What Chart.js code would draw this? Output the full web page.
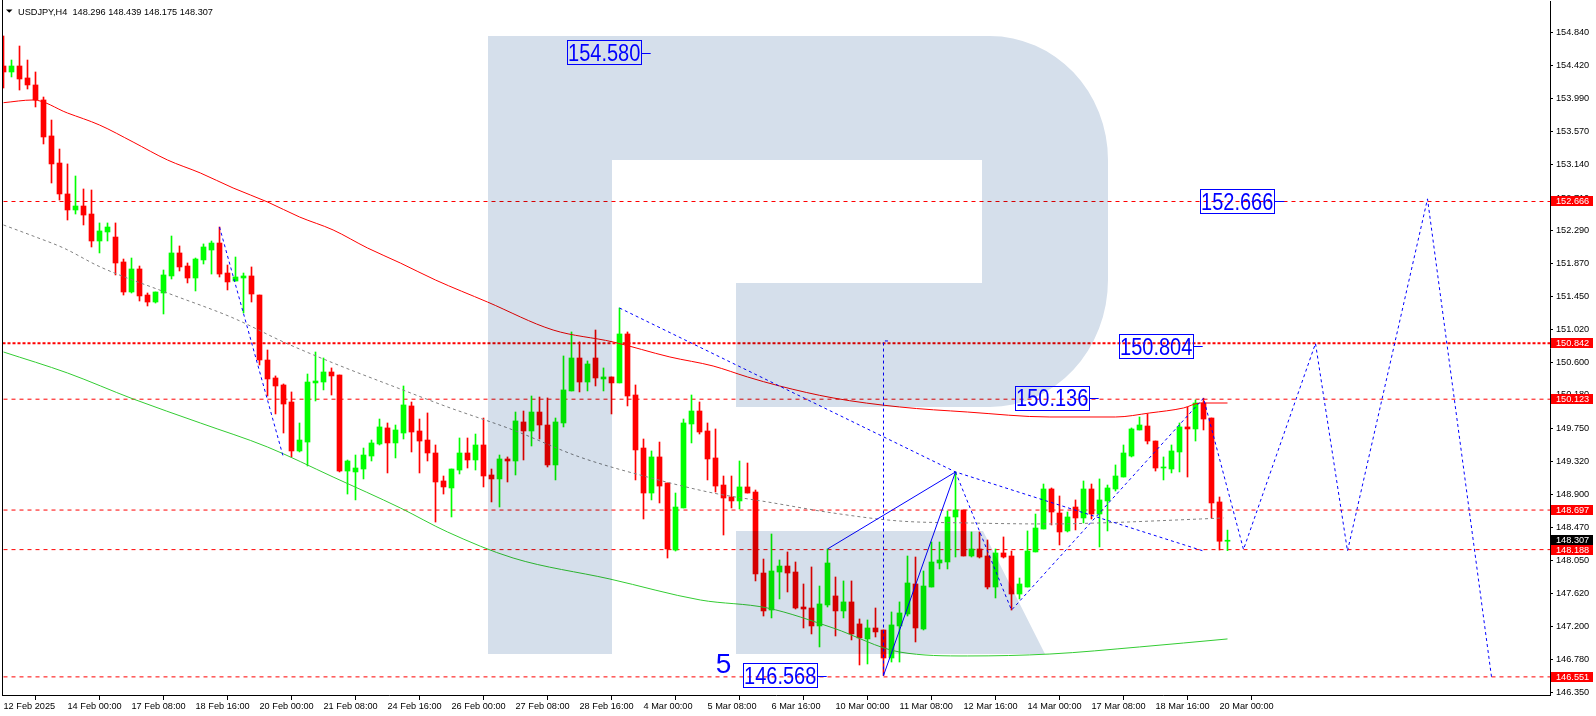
<!DOCTYPE html>
<html>
<head>
<meta charset="utf-8">
<script src="https://cdn.jsdelivr.net/npm/chart.js@4.4.1/dist/chart.umd.min.js"></script>
<style>
    html, body { margin: 0; padding: 0; background: #fff; overflow: hidden; }
</style>
</head>
<body>
<canvas id="myChart" width="1596" height="716"></canvas>
<script>
    // USDJPY H4 candles, 12 Feb 16:00 -> 20 Mar 04:00
    const open = [154.409,154.332,154.409,154.255,154.165,153.972,153.509,153.161,152.763,152.557,152.608,152.505,152.158,152.274,152.209,151.888,151.502,151.798,151.463,151.373,
        151.489,151.708,152.004,151.836,151.682,151.914,152.042,152.132,151.746,151.643,151.682,151.708,151.463,150.627,150.396,150.306,150.087,149.457,149.572,150.332,
        150.344,150.473,150.434,149.199,149.187,149.225,149.392,149.547,149.753,149.560,149.688,150.036,149.714,149.598,149.431,149.071,148.981,149.212,149.431,149.341,
        149.534,149.148,149.097,149.354,149.328,149.830,149.714,149.958,149.791,149.277,149.817,150.229,150.653,150.344,150.653,150.383,150.409,150.332,150.962,150.177,
        149.495,148.916,149.380,149.045,148.183,148.724,149.804,149.971,149.714,149.367,149.019,148.865,148.814,148.994,148.929,147.887,147.411,147.900,147.977,147.900,
        147.450,147.437,147.206,147.476,147.592,147.399,147.515,147.232,147.039,147.180,147.154,146.794,147.206,147.360,147.746,147.167,147.707,148.016,148.029,148.608,
        148.698,148.106,148.196,148.106,147.707,148.145,148.106,147.617,147.707,148.158,148.453,148.968,148.659,148.428,148.736,148.595,148.968,148.646,148.814,148.968,
        149.122,149.392,149.727,149.778,149.585,149.238,149.225,149.444,149.766,149.740,150.074,149.881,148.801,148.296];
    const high = [154.795,154.486,154.666,154.486,154.332,154.010,153.714,153.341,153.149,152.994,152.827,152.814,152.390,152.390,152.390,151.926,151.939,151.836,151.489,151.502,
        151.785,152.222,152.094,151.875,151.939,152.120,152.158,152.338,151.849,151.952,151.746,151.824,151.463,150.756,150.422,150.319,150.216,149.817,150.447,150.730,
        150.653,150.525,150.434,149.341,149.405,149.495,149.598,149.868,149.817,149.791,150.293,150.087,149.868,149.946,149.534,149.135,149.225,149.624,149.624,149.675,
        149.881,149.225,149.405,149.380,149.958,149.971,150.164,150.151,150.139,149.881,150.679,150.988,150.859,150.615,151.013,150.525,150.409,151.296,150.988,150.306,
        149.611,149.457,149.572,149.045,148.916,149.868,150.177,150.087,149.817,149.740,149.135,149.135,149.328,149.302,148.955,148.067,148.389,148.055,148.158,148.029,
        147.746,147.965,147.720,148.196,147.836,147.785,147.785,147.296,147.283,147.437,147.154,147.386,147.515,148.106,148.093,147.913,148.286,148.286,148.685,149.187,
        148.698,148.415,148.415,148.312,148.196,148.351,148.170,147.823,148.428,148.646,149.032,148.981,148.878,148.672,148.827,149.071,149.032,149.097,149.019,149.277,
        149.534,149.753,149.894,149.933,149.585,149.380,149.534,149.817,150.023,150.113,150.136,149.881,148.865,148.439];
    const low = [154.126,154.268,154.100,154.113,153.882,153.406,152.904,152.685,152.428,152.505,152.364,152.081,152.004,152.158,151.721,151.463,151.489,151.386,151.322,151.360,
        151.219,151.669,151.772,151.618,151.515,151.862,151.733,151.695,151.528,151.643,151.232,151.373,150.563,150.164,149.933,149.688,149.380,149.444,149.264,150.100,
        150.242,150.177,149.187,148.903,148.827,149.097,149.328,149.534,149.174,149.367,149.611,149.444,149.174,149.328,148.543,148.903,148.608,149.161,149.238,149.212,
        148.994,148.801,148.736,149.058,149.148,149.341,149.521,149.611,149.251,149.084,149.766,150.229,150.216,150.229,150.293,150.229,149.933,150.332,150.036,149.084,
        148.582,148.827,148.788,148.080,148.170,148.724,149.560,149.675,149.084,148.929,148.376,148.724,148.711,148.916,147.785,147.334,147.309,147.553,147.643,147.424,
        147.180,147.103,146.936,147.450,147.077,147.309,147.026,146.704,146.717,147.064,146.568,146.742,146.742,147.334,147.000,147.154,147.707,147.939,147.939,148.093,
        148.106,148.093,148.080,147.682,147.566,148.080,147.411,147.553,147.707,148.158,148.453,148.505,148.248,148.415,148.441,148.531,148.582,148.222,148.428,148.942,
        149.122,149.380,149.727,149.547,149.199,149.084,149.174,149.187,149.122,149.585,149.727,148.595,148.183,148.175];
    const close = [154.332,154.409,154.242,154.165,153.972,153.496,153.149,152.763,152.557,152.608,152.492,152.158,152.287,152.338,151.875,151.502,151.798,151.451,151.373,151.502,
        151.721,152.004,151.824,151.682,151.926,152.081,152.132,151.733,151.631,151.695,151.708,151.476,150.627,150.383,150.293,150.061,149.457,149.598,150.344,150.357,
        150.473,150.422,149.199,149.328,149.238,149.405,149.560,149.766,149.560,149.727,150.049,149.701,149.585,149.431,149.058,148.994,149.225,149.431,149.341,149.534,
        149.135,149.097,149.354,149.328,149.843,149.714,149.958,149.791,149.277,149.830,150.242,150.653,150.344,150.576,150.396,150.409,150.332,150.962,150.164,149.470,
        148.916,149.380,149.006,148.196,148.736,149.817,149.971,149.701,149.354,149.006,148.852,148.814,148.994,148.916,147.875,147.399,147.913,147.977,147.887,147.437,
        147.424,147.206,147.489,148.016,147.399,147.515,147.103,147.052,147.180,147.129,146.794,147.219,147.373,147.759,147.180,147.720,148.029,148.055,148.608,148.698,
        148.106,148.196,148.093,147.707,148.145,148.093,147.617,147.746,148.170,148.466,148.968,148.672,148.415,148.608,148.595,148.968,148.646,148.827,148.981,149.135,
        149.431,149.740,149.791,149.585,149.238,149.251,149.457,149.766,149.740,150.074,149.868,148.788,148.296,148.307];

    // time axis: one label every 8 bars
    const xLabels = ['12 Feb 2025','14 Feb 00:00','17 Feb 08:00','18 Feb 16:00','20 Feb 00:00','21 Feb 08:00','24 Feb 16:00',
        '26 Feb 00:00','27 Feb 08:00','28 Feb 16:00','4 Mar 00:00','5 Mar 08:00','6 Mar 16:00','10 Mar 00:00','11 Mar 08:00',
        '12 Mar 16:00','14 Mar 00:00','17 Mar 08:00','18 Mar 16:00','20 Mar 00:00'];
    const barsPerLabel = 8;

    // price axis
    const yTicks = [154.840,154.420,153.990,153.570,153.140,152.710,152.290,151.870,151.450,151.020,150.600,150.180,
        149.750,149.320,148.900,148.470,148.050,147.620,147.200,146.780,146.350];

    // moving averages (read at some bars)
    const redMaBars = [0,3.7,8,12,16.2,20.5,24.6,28.7,33,37,41.2,45.5,49.6,54,60.5,68.7,76.2,83.3,88.7,93,97,103.7,112,120.5,130.8,139,143.3,147.5,149.6,153];
    const redMaValues = [153.937,153.972,153.804,153.650,153.431,153.200,153.033,152.840,152.660,152.467,152.300,152.068,151.875,151.656,151.373,151.013,150.859,150.666,150.550,150.409,150.293,150.139,150.023,149.958,149.894,149.894,149.946,150.010,150.074,150.074];
    const grayMaBars = [0,3.7,7.5,12.1,20.5,28.7,35,41.2,49.6,55.5,63.7,72,80.5,88.7,95.5,103.7,112,120.5,130.8,137,149.6,152.5];
    const grayMaValues = [152.364,152.222,152.068,151.824,151.489,151.168,150.859,150.589,150.254,150.023,149.727,149.380,149.122,148.916,148.801,148.659,148.556,148.531,148.518,148.531,148.582,148.595];
    const greenMaBars = [0,8,16.2,24.6,33,41.2,49.6,55.5,63.7,75.8,87.1,95.5,103.7,112,120.5,130.8,142,153];
    const greenMaValues = [150.730,150.460,150.126,149.817,149.508,149.122,148.724,148.415,148.080,147.810,147.540,147.437,147.180,146.871,146.820,146.845,146.936,147.039];

    // horizontal levels
    const levelPrices = [152.666, 150.842, 150.123, 148.697, 148.188, 146.551];
    const currentPrice = 148.307;

    // blue wave lines
    const waveBars1 = [27, 35];
    const wavePrices1 = [152.338, 149.370];
    const waveBars2 = [77, 119, 150];
    const wavePrices2 = [151.296, 149.187, 148.170];
    const waveBars3 = [119, 126, 150, 155, 164, 168, 178, 186];
    const wavePrices3 = [149.187, 147.410, 150.136, 148.190, 150.840, 148.170, 152.700, 146.551];
    const solidBars = [103, 119, 110];
    const solidPrices = [148.196, 149.187, 146.568];
    const vBars = [110, 110, 110.9];
    const vPrices = [146.568, 150.872, 150.872];

    // price notes
    const noteText = ['154.580', '150.136', '150.804', '152.666', '146.568'];
    const notePrice = [154.580, 150.136, 150.804, 152.666, 146.568];
    const noteBar = [80.9, 136.9, 149.9, 160.1, 102.9];

    const FONT = '"Liberation Sans", Arial, sans-serif';

    function pts(bars, values) {
        return bars.map((b, k) => ({ x: b, y: values[k] }));
    }
    function lineSet(data, color, dash, width, order, smooth) {
        return {
            type: 'line', data: data, borderColor: color, borderWidth: width || 1,
            borderDash: dash || [], pointRadius: 0, fill: false, order: order, clip: 0,
            tension: 0, cubicInterpolationMode: smooth ? 'monotone' : 'default'
        };
    }

    const candleColor = open.map((o, i) => close[i] >= o ? '#00ff00' : '#ff0000');
    const wickData = open.map((o, i) => ({ x: i, y: [low[i], high[i]] }));
    const bodyData = open.map((o, i) => ({ x: i, y: [o, close[i]] }));

    let datasets = [];
    // wave lines on top
    datasets.push(lineSet(pts(waveBars1, wavePrices1), '#0000ff', [3, 3], 1, 0));
    datasets.push(lineSet(pts(waveBars2, wavePrices2), '#0000ff', [3, 3], 1, 0));
    datasets.push(lineSet(pts(waveBars3, wavePrices3), '#0000ff', [3, 3], 1, 0));
    datasets.push(lineSet(pts(solidBars, solidPrices), '#0000ff', [], 1, 0));
    datasets.push(lineSet(pts(vBars, vPrices), '#0000ff', [3, 3], 1, 0));
    // moving averages
    datasets.push(lineSet(pts(redMaBars, redMaValues), '#ff0000', [], 1, 1, true));
    datasets.push(lineSet(pts(grayMaBars, grayMaValues), '#808080', [3, 3], 1, 1, true));
    datasets.push(lineSet(pts(greenMaBars, greenMaValues), '#33cc33', [], 1, 1, true));
    // candles
    datasets.push({
        type: 'bar', data: bodyData, backgroundColor: candleColor, barThickness: 5,
        grouped: false, minBarLength: 1, borderWidth: 0, order: 2, clip: 0
    });
    datasets.push({
        type: 'bar', data: wickData, backgroundColor: candleColor, barThickness: 1,
        grouped: false, borderWidth: 0, order: 3, clip: 0
    });
    // horizontal levels
    for (let k = 0; k < levelPrices.length; k++) {
        let thick = levelPrices[k] === 150.842;
        datasets.push(lineSet(pts([-2, 200], [levelPrices[k], levelPrices[k]]), '#ff0000',
            thick ? [3, 2] : [4, 4], thick ? 2 : 1, 4));
    }

    // logo, notes, header and price boxes
    const overlay = {
        id: 'overlay',
        afterDatasetsDraw(chart) {
            const { ctx, chartArea: a } = chart;
            ctx.save();
            ctx.beginPath();
            ctx.rect(a.left, a.top, a.right - a.left, a.bottom - a.top);
            ctx.clip();
            ctx.globalCompositeOperation = 'multiply';
            ctx.fillStyle = '#d5dfeb';
            ctx.beginPath();
            ctx.moveTo(488, 36);
            ctx.lineTo(990, 36);
            ctx.ellipse(990, 160, 118, 124, 0, -Math.PI / 2, 0);
            ctx.lineTo(1108, 280);
            ctx.ellipse(990, 280, 118, 127, 0, 0, Math.PI / 2);
            ctx.lineTo(736, 407);
            ctx.lineTo(736, 283);
            ctx.lineTo(982, 283);
            ctx.lineTo(982, 160);
            ctx.lineTo(612, 160);
            ctx.lineTo(612, 654);
            ctx.lineTo(488, 654);
            ctx.closePath();
            ctx.moveTo(736, 531);
            ctx.lineTo(983, 531);
            ctx.lineTo(1045, 654);
            ctx.lineTo(736, 654);
            ctx.closePath();
            ctx.fill();
            ctx.restore();
        },
        afterDraw(chart) {
            const { ctx, chartArea: a } = chart;
            const xs = chart.scales.x, ys = chart.scales.y;
            ctx.save();

            // left border
            ctx.fillStyle = '#000';
            ctx.fillRect(a.left, 0, 1, a.bottom - 0);

            // notes
            ctx.strokeStyle = '#0000ff';
            ctx.lineWidth = 1;
            for (let k = 0; k < noteText.length; k++) {
                let ax = xs.getPixelForValue(noteBar[k]);
                let ay = ys.getPixelForValue(notePrice[k]);
                let bx = Math.round(ax - 84);
                let by = Math.round(ay - 12.5);
                ctx.strokeRect(bx + 0.5, by + 0.5, 74, 24);
                ctx.beginPath();
                ctx.moveTo(bx + 74.5, Math.round(ay) + 0.5);
                ctx.lineTo(ax, Math.round(ay) + 0.5);
                ctx.stroke();
                ctx.save();
                ctx.translate(bx + 1, ay + 8.3);
                ctx.scale(0.87, 1);
                ctx.font = '23px ' + FONT;
                ctx.fillStyle = '#0000ff';
                ctx.textBaseline = 'alphabetic';
                ctx.fillText(noteText[k], 0, 0);
                ctx.restore();
            }
            // wave number
            ctx.font = '28px ' + FONT;
            ctx.fillStyle = '#0000ff';
            ctx.textAlign = 'center';
            ctx.textBaseline = 'middle';
            ctx.fillText('5', xs.getPixelForValue(90), ys.getPixelForValue(146.704));

            // header
            ctx.fillStyle = '#000';
            ctx.beginPath();
            ctx.moveTo(6, 9.5);
            ctx.lineTo(12.5, 9.5);
            ctx.lineTo(9.25, 12.8);
            ctx.closePath();
            ctx.fill();
            ctx.font = '9.2px ' + FONT;
            ctx.textAlign = 'left';
            ctx.textBaseline = 'alphabetic';
            ctx.fillText('USDJPY,H4  ' + open[open.length - 1].toFixed(3) + ' ' + high[high.length - 1].toFixed(3) + ' ' +
                low[low.length - 1].toFixed(3) + ' ' + close[close.length - 1].toFixed(3), 18, 14.5);

            // price boxes on the axis
            ctx.textBaseline = 'middle';
            const box = (p, color) => {
                let py = Math.round(ys.getPixelForValue(p));
                ctx.fillStyle = color;
                ctx.fillRect(a.right + 1, py - 5, 42, 10);
                ctx.fillStyle = '#fff';
                ctx.fillText(p.toFixed(3), a.right + 6, py + 0.5);
            };
            box(currentPrice, '#000');
            levelPrices.forEach(p => box(p, '#ff0000'));
            ctx.restore();
        }
    };

    let config = {
        type: 'bar',
        data: { datasets: datasets },
        options: {
            responsive: false,
            animation: false,
            events: [],
            devicePixelRatio: 1,
            layout: { padding: { left: 2, top: 1, right: 0, bottom: 0 } },
            plugins: { legend: { display: false }, tooltip: { enabled: false } },
            scales: {
                x: {
                    type: 'linear', min: -0.1875, max: 193.3125, offset: false,
                    grid: { display: true, drawOnChartArea: false, drawTicks: true, tickLength: 5, color: '#000' },
                    border: { display: true, color: '#000' },
                    ticks: {
                        autoSkip: false, maxRotation: 0, minRotation: 0, align: 'start', padding: 1,
                        color: '#000', font: { family: FONT, size: 9.2 },
                        callback: (v) => xLabels[Math.round(v / barsPerLabel)] || ''
                    },
                    afterBuildTicks: (s) => { s.ticks = xLabels.map((t, k) => ({ value: k * barsPerLabel })); },
                    afterFit: (s) => { s.height = 21; s.paddingLeft = 0; s.paddingRight = 0; }
                },
                y: {
                    type: 'linear', position: 'right', min: 146.3179, max: 155.2451, beginAtZero: false,
                    grid: { display: true, drawOnChartArea: false, drawTicks: true, tickLength: 3, color: '#000' },
                    border: { display: true, color: '#000' },
                    ticks: {
                        padding: 3, color: '#000', font: { family: FONT, size: 9.2 },
                        callback: (v) => Number(v).toFixed(3)
                    },
                    afterBuildTicks: (s) => { s.ticks = yTicks.map(v => ({ value: v })); },
                    afterFit: (s) => { s.width = 46; s.paddingTop = 0; s.paddingBottom = 0; }
                }
            }
        },
        plugins: [overlay]
    };

    let ctx = document.getElementById('myChart');
    let myChart = new Chart(ctx, config);
</script>
</body>
</html>
